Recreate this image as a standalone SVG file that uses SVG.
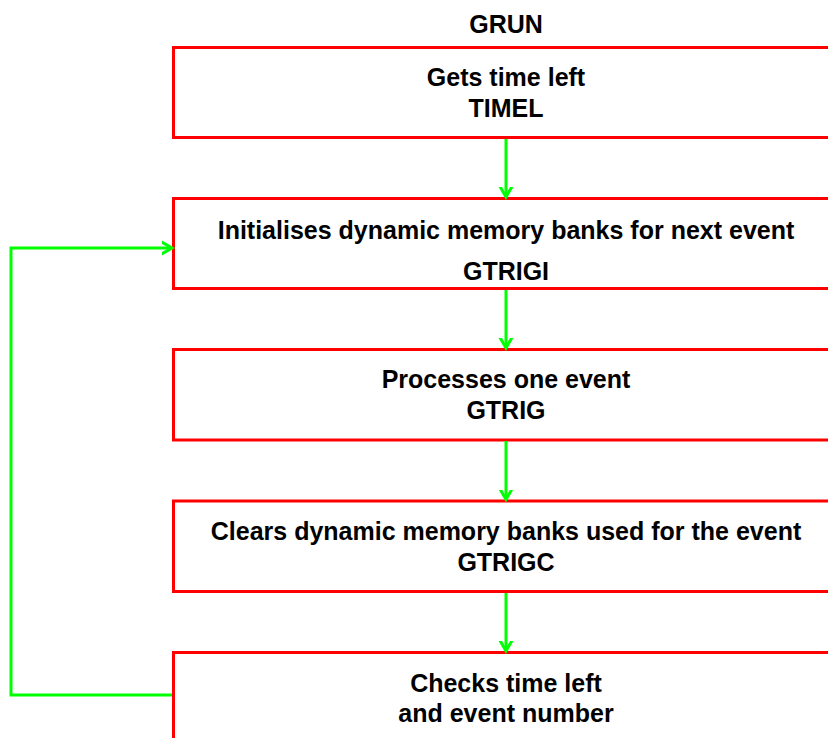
<svg xmlns="http://www.w3.org/2000/svg" width="828" height="738" viewBox="0 0 828 738">
<style>
.box{fill:#ffffff;stroke:#ff0000;stroke-width:3}
.t{font-family:"Liberation Sans",Arial,sans-serif;font-weight:bold;font-size:25px;fill:#000000;text-anchor:middle}
.c{fill:none;stroke:#00ff00;stroke-width:3}
</style>
<defs>
<marker id="ah" markerUnits="userSpaceOnUse" markerWidth="20" markerHeight="20" viewBox="-10 -10 20 20" refX="0" refY="0" orient="auto">
<polyline points="-14,-8 0,0 -14,8" fill="none" stroke="#00ff00" stroke-width="3"/>
</marker>
</defs>
<rect width="828" height="738" fill="#ffffff"/>
<text class="t" x="506" y="33">GRUN</text>
<g id="n1">
<rect class="box" x="173.5" y="47.5" width="680" height="90"/>
<text class="t" x="506" y="86">Gets time left</text>
<text class="t" x="506" y="117">TIMEL</text>
</g>
<g id="n2">
<rect class="box" x="173.5" y="198.5" width="680" height="90"/>
<text class="t" x="506" y="239">Initialises dynamic memory banks for next event</text>
<text class="t" x="506" y="280">GTRIGI</text>
</g>
<g id="n3">
<rect class="box" x="173.5" y="349.5" width="680" height="90.5"/>
<text class="t" x="506" y="388">Processes one event</text>
<text class="t" x="506" y="419">GTRIG</text>
</g>
<g id="n4">
<rect class="box" x="173.5" y="501" width="680" height="90.5"/>
<text class="t" x="506" y="540">Clears dynamic memory banks used for the event</text>
<text class="t" x="506" y="571">GTRIGC</text>
</g>
<g id="n5">
<rect class="box" x="173.5" y="652.5" width="680" height="100"/>
<text class="t" x="506" y="692">Checks time left</text>
<text class="t" x="506" y="722">and event number</text>
</g>
<g id="connectors">
<line class="c" x1="506" y1="139" x2="506" y2="197" marker-end="url(#ah)"/>
<line class="c" x1="506" y1="290" x2="506" y2="348" marker-end="url(#ah)"/>
<line class="c" x1="506" y1="441" x2="506" y2="499.5" marker-end="url(#ah)"/>
<line class="c" x1="506" y1="593" x2="506" y2="651" marker-end="url(#ah)"/>
<polyline class="c" points="172,695 11,695 11,248 172,248" marker-end="url(#ah)"/>
</g>
</svg>
